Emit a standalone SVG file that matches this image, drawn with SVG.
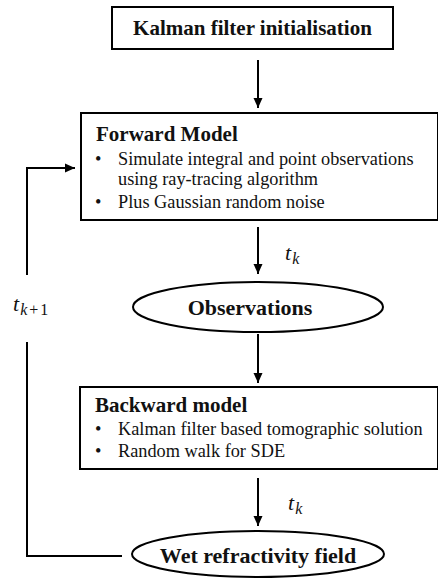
<svg xmlns="http://www.w3.org/2000/svg" width="438" height="580" viewBox="0 0 438 580">
<defs>
<marker id="ah" markerWidth="10" markerHeight="10" refX="10" refY="5" orient="auto" markerUnits="userSpaceOnUse">
<path d="M0,0.5 L10,5 L0,9.5 Z" fill="#000"/>
</marker>
</defs>
<style>
.box{fill:#fff;stroke:#000;stroke-width:2}
.t{font-family:"Liberation Serif","Times New Roman",serif;fill:#111}
.b{font-weight:bold;font-size:21px}
.r{font-size:18.3px}
.m{font-family:"Liberation Serif",serif;font-style:italic;font-size:22px;fill:#111}
.s{font-size:16px}
.c{fill:none;stroke:#000;stroke-width:2}
</style>
<rect width="438" height="580" fill="#fff"/>
<g id="connectors">
<line class="c" x1="258" y1="60" x2="258" y2="108" marker-end="url(#ah)"/>
<line class="c" x1="258" y1="227" x2="258" y2="274" marker-end="url(#ah)"/>
<line class="c" x1="258" y1="334" x2="258" y2="383" marker-end="url(#ah)"/>
<line class="c" x1="258" y1="478" x2="258" y2="526" marker-end="url(#ah)"/>
<polyline class="c" points="122,556 27,556 27,342"/>
<polyline class="c" points="27,275 27,168 75,168" marker-end="url(#ah)"/>
<text class="m" x="285" y="260">t<tspan class="s" dy="4" dx="1">k</tspan></text>
<text class="m" x="288" y="510">t<tspan class="s" dy="4" dx="1">k</tspan></text>
<text class="m" x="13" y="311">t<tspan class="s" dy="4" dx="1">k<tspan font-style="normal" dx="2">+</tspan><tspan font-style="normal" dx="2">1</tspan></tspan></text>
</g>
<g id="init">
<rect class="box" x="112" y="7" width="281" height="42"/>
<text class="t b" x="252.5" y="35" text-anchor="middle" font-size="22.5">Kalman filter initialisation</text>
</g>
<g id="forward">
<rect class="box" x="81" y="113" width="357" height="107"/>
<text class="t b" x="96" y="141">Forward Model</text>
<text class="t r" x="95" y="165">•</text>
<text class="t r" x="118" y="165">Simulate integral and point observations</text>
<text class="t r" x="118" y="185">using ray-tracing algorithm</text>
<text class="t r" x="95" y="208">•</text>
<text class="t r" x="118" y="208">Plus Gaussian random noise</text>
</g>
<g id="observations">
<ellipse class="box" cx="258" cy="307" rx="125" ry="25"/>
<text class="t b" x="250" y="315" text-anchor="middle" style="font-size:22px">Observations</text>
</g>
<g id="backward">
<rect class="box" x="80" y="387" width="358" height="82"/>
<text class="t b" x="95" y="412">Backward model</text>
<text class="t r" x="95" y="435">•</text>
<text class="t r" x="118" y="435">Kalman filter based tomographic solution</text>
<text class="t r" x="95" y="457">•</text>
<text class="t r" x="118" y="457">Random walk for SDE</text>
</g>
<g id="wet">
<ellipse class="box" cx="258" cy="554" rx="126" ry="23"/>
<text class="t b" x="258" y="563" text-anchor="middle" style="font-size:22px">Wet refractivity field</text>
</g>
</svg>
